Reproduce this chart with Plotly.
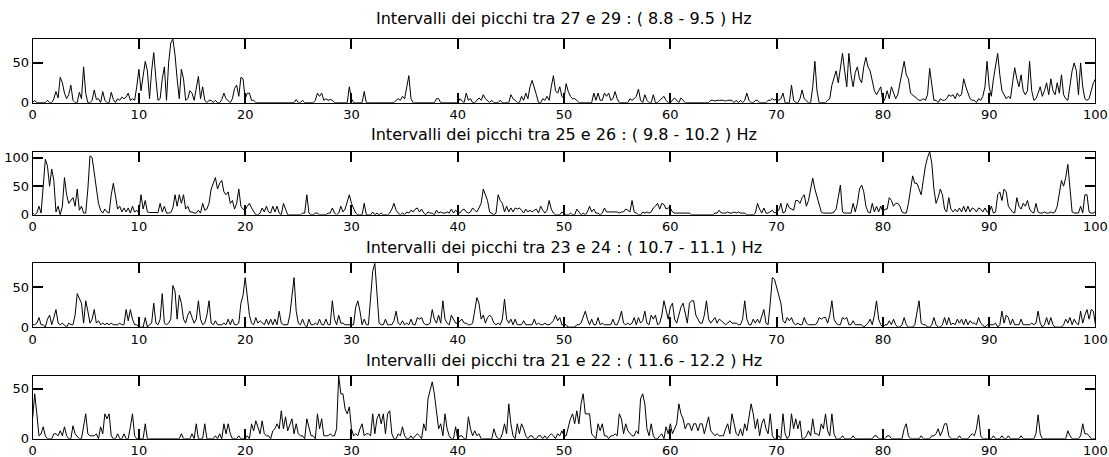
import numpy as np
import plotly.graph_objects as go

# sample times (s), one value every 0.2 s from 0 to 100
t = np.round(np.arange(501) * 0.2, 1)

titles = [
    "Intervalli dei picchi tra 27 e 29 : ( 8.8 - 9.5 ) Hz",
    "Intervalli dei picchi tra 25 e 26 : ( 9.8 - 10.2 ) Hz",
    "Intervalli dei picchi tra 23 e 24 : ( 10.7 - 11.1 ) Hz",
    "Intervalli dei picchi tra 21 e 22 : ( 11.6 - 12.2 ) Hz",
]

x_ticks = list(range(0, 101, 10))
y_ticks = [[0, 50], [0, 50, 100], [0, 50], [0, 50]]

# band 27-29 (8.8 - 9.5 Hz), one row per 5 s
band_27_29 = [
    0, 3, 0, 0, 0, 0, 0, 3, 0, 0, 5, 14, 6, 32, 25, 12, 5, 10, 22, 3, 0, 0, 13, 5, 45,
    12, 0, 0, 3, 16, 4, 5, 0, 14, 3, 0, 0, 13, 4, 0, 5, 3, 7, 5, 7, 12, 3, 5, 3, 20,
    42, 15, 35, 52, 40, 5, 40, 63, 30, 3, 5, 30, 45, 3, 50, 75, 80, 60, 30, 5, 42, 30, 3, 5, 15,
    12, 3, 20, 33, 5, 20, 3, 0, 3, 3, 0, 3, 0, 0, 4, 12, 5, 3, 0, 5, 18, 22, 8, 32, 30,
    5, 12, 12, 3, 3, 0, 0, 0, 0, 0, 0, 0, 0, 0, 0, 0, 0, 0, 0, 0, 0, 0, 0, 0, 4,
    0, 0, 3, 0, 0, 0, 0, 0, 3, 12, 8, 12, 3, 5, 3, 4, 3, 0, 0, 0, 0, 0, 0, 0, 20,
    5, 0, 0, 0, 0, 0, 14, 0, 0, 0, 0, 0, 0, 0, 0, 0, 0, 0, 0, 0, 0, 3, 5, 3, 8,
    5, 22, 34, 5, 0, 0, 0, 0, 0, 0, 0, 0, 0, 0, 0, 5, 5, 0, 0, 0, 0, 0, 0, 0, 0,
    0, 5, 3, 0, 12, 3, 5, 0, 0, 3, 6, 3, 10, 5, 3, 0, 3, 0, 0, 0, 3, 0, 0, 0, 0,
    10, 5, 3, 0, 0, 8, 3, 12, 5, 20, 28, 20, 10, 0, 0, 5, 3, 8, 3, 20, 34, 15, 12, 20, 8,
    5, 24, 14, 8, 5, 5, 3, 0, 0, 0, 0, 0, 0, 0, 12, 3, 12, 3, 3, 12, 8, 12, 3, 5, 14,
    5, 0, 0, 0, 0, 0, 5, 3, 5, 8, 17, 3, 0, 10, 3, 0, 0, 10, 0, 0, 3, 5, 8, 3, 0,
    0, 3, 6, 3, 0, 6, 3, 0, 0, 0, 0, 0, 0, 0, 0, 0, 0, 0, 0, 3, 3, 2, 3, 3, 3,
    3, 2, 3, 3, 3, 0, 3, 0, 3, 0, 3, 12, 3, 0, 0, 3, 3, 0, 0, 0, 0, 3, 3, 5, 3,
    5, 3, 5, 12, 0, 0, 0, 22, 3, 0, 0, 5, 16, 5, 3, 0, 0, 20, 52, 15, 0, 0, 0, 0, 3,
    5, 22, 30, 40, 25, 45, 62, 40, 20, 62, 35, 20, 38, 45, 30, 25, 45, 57, 45, 40, 25, 15, 10, 15, 20,
    0, 5, 15, 5, 20, 12, 5, 10, 25, 40, 52, 35, 30, 12, 10, 8, 5, 3, 3, 5, 3, 10, 43, 20, 3,
    3, 0, 5, 3, 3, 5, 10, 8, 10, 5, 12, 8, 10, 30, 20, 12, 5, 3, 3, 0, 5, 3, 8, 20, 52,
    20, 8, 30, 45, 62, 35, 15, 10, 5, 8, 5, 25, 44, 30, 20, 35, 15, 10, 15, 52, 15, 3, 5, 12, 20,
    8, 15, 25, 10, 30, 15, 10, 25, 12, 35, 10, 5, 3, 20, 40, 50, 40, 10, 50, 20, 5, 3, 5, 15, 25,
    30,
]

# band 25-26 (9.8 - 10.2 Hz)
band_25_26 = [
    3, 0, 3, 15, 3, 50, 97, 85, 50, 80, 60, 5, 15, 0, 15, 65, 35, 20, 25, 30, 15, 45, 8, 15, 3,
    3, 45, 103, 100, 75, 50, 20, 8, 3, 10, 5, 3, 35, 55, 30, 10, 15, 5, 12, 5, 12, 3, 15, 5, 8,
    3, 35, 10, 25, 5, 4, 4, 3, 4, 4, 20, 5, 15, 3, 3, 4, 12, 35, 15, 35, 20, 35, 10, 15, 5,
    5, 3, 3, 8, 3, 20, 8, 10, 20, 45, 55, 65, 45, 55, 60, 40, 35, 40, 20, 25, 10, 20, 45, 15, 10,
    8, 15, 20, 12, 5, 0, 0, 3, 12, 5, 15, 5, 3, 15, 5, 15, 3, 0, 20, 10, 0, 0, 0, 0, 0,
    0, 0, 3, 3, 35, 3, 0, 0, 3, 3, 0, 0, 0, 0, 3, 3, 12, 3, 0, 3, 15, 5, 10, 25, 35,
    20, 10, 3, 0, 0, 0, 20, 0, 0, 0, 5, 0, 3, 0, 3, 0, 0, 0, 3, 10, 20, 8, 3, 0, 3,
    0, 5, 3, 8, 5, 10, 12, 5, 10, 3, 0, 5, 3, 3, 0, 8, 3, 5, 3, 3, 5, 3, 10, 3, 8,
    5, 3, 8, 10, 5, 3, 5, 12, 8, 5, 12, 20, 45, 35, 25, 5, 3, 0, 3, 35, 25, 20, 5, 15, 5,
    12, 5, 12, 10, 12, 8, 3, 10, 5, 8, 5, 8, 10, 3, 15, 8, 3, 8, 25, 10, 3, 0, 0, 0, 5,
    3, 0, 0, 3, 0, 0, 10, 5, 0, 3, 0, 5, 15, 5, 10, 3, 3, 0, 3, 12, 5, 5, 5, 5, 5,
    5, 3, 5, 5, 10, 8, 5, 25, 5, 3, 0, 0, 5, 3, 5, 3, 5, 12, 15, 20, 10, 20, 18, 10, 12,
    12, 5, 3, 3, 3, 3, 3, 3, 3, 3, 0, 0, 0, 0, 0, 0, 0, 0, 0, 0, 0, 3, 3, 8, 3,
    3, 3, 5, 3, 3, 5, 3, 5, 3, 3, 3, 0, 0, 0, 0, 3, 20, 10, 3, 12, 3, 3, 5, 8, 3,
    5, 8, 20, 3, 5, 20, 12, 10, 8, 25, 25, 20, 30, 35, 15, 25, 45, 64, 45, 30, 15, 5, 3, 3, 3,
    3, 3, 5, 10, 30, 52, 5, 3, 3, 3, 3, 20, 5, 20, 45, 52, 40, 15, 5, 3, 20, 5, 15, 5, 15,
    5, 10, 10, 30, 25, 15, 20, 20, 15, 5, 3, 3, 20, 45, 68, 55, 55, 45, 35, 60, 85, 100, 110, 90, 45,
    20, 30, 45, 35, 10, 5, 30, 10, 5, 10, 5, 12, 5, 15, 5, 15, 5, 12, 10, 5, 12, 10, 5, 12, 5,
    5, 15, 3, 5, 35, 40, 25, 45, 40, 15, 10, 5, 3, 30, 15, 10, 20, 15, 25, 10, 5, 3, 20, 5, 3,
    3, 5, 3, 3, 5, 3, 5, 15, 35, 60, 50, 65, 88, 40, 5, 3, 3, 3, 15, 3, 35, 35, 5, 3, 3,
    5,
]

# band 23-24 (10.7 - 11.1 Hz)
band_23_24 = [
    3, 3, 5, 12, 3, 3, 0, 10, 15, 3, 12, 22, 5, 3, 5, 3, 0, 5, 3, 3, 15, 42, 35, 30, 5,
    33, 20, 5, 10, 22, 5, 8, 3, 5, 3, 5, 3, 5, 3, 3, 3, 5, 3, 3, 22, 8, 22, 10, 3, 3,
    0, 0, 0, 12, 0, 3, 5, 30, 5, 3, 10, 42, 5, 3, 5, 10, 52, 45, 10, 40, 30, 10, 5, 15, 20,
    12, 5, 10, 33, 10, 3, 5, 15, 33, 5, 3, 8, 3, 3, 3, 5, 3, 10, 3, 10, 3, 3, 5, 30, 40,
    62, 40, 15, 5, 3, 12, 5, 8, 5, 3, 10, 3, 10, 3, 10, 3, 20, 5, 3, 3, 3, 15, 35, 62, 20,
    5, 3, 10, 3, 0, 10, 3, 3, 5, 3, 10, 3, 3, 10, 3, 3, 33, 10, 3, 15, 5, 5, 3, 3, 3,
    3, 3, 25, 33, 20, 3, 10, 3, 3, 40, 70, 80, 45, 5, 3, 3, 10, 3, 3, 3, 8, 20, 5, 3, 8,
    3, 5, 3, 10, 3, 3, 12, 10, 12, 5, 3, 3, 5, 22, 10, 5, 15, 5, 33, 10, 5, 3, 15, 10, 5,
    5, 8, 10, 5, 5, 3, 3, 5, 20, 37, 30, 10, 15, 5, 12, 15, 12, 5, 3, 5, 3, 10, 35, 10, 5,
    10, 3, 10, 3, 3, 3, 8, 3, 3, 3, 3, 10, 3, 5, 3, 3, 5, 3, 3, 5, 8, 15, 8, 12, 3,
    3, 3, 0, 0, 0, 0, 3, 3, 5, 12, 20, 10, 3, 10, 3, 3, 12, 3, 5, 3, 3, 3, 3, 10, 3,
    3, 10, 20, 5, 3, 5, 3, 5, 12, 3, 12, 5, 8, 20, 5, 3, 15, 10, 15, 3, 5, 15, 33, 20, 10,
    25, 30, 10, 5, 15, 25, 30, 15, 5, 30, 33, 33, 15, 10, 5, 5, 15, 33, 10, 5, 8, 12, 5, 10, 8,
    5, 3, 5, 8, 5, 5, 5, 3, 3, 10, 33, 10, 3, 3, 10, 5, 10, 5, 15, 22, 5, 3, 30, 62, 60,
    50, 40, 30, 8, 5, 12, 8, 12, 5, 3, 5, 3, 3, 12, 5, 3, 3, 3, 3, 5, 12, 10, 12, 12, 5,
    15, 33, 10, 5, 3, 3, 12, 10, 12, 3, 3, 8, 3, 3, 3, 3, 0, 3, 5, 10, 3, 15, 33, 10, 3,
    0, 3, 3, 8, 3, 10, 3, 0, 0, 3, 12, 3, 0, 0, 0, 3, 20, 33, 5, 3, 3, 0, 0, 3, 12,
    3, 0, 0, 3, 12, 3, 12, 3, 5, 3, 10, 5, 10, 3, 10, 3, 8, 5, 5, 3, 12, 5, 3, 0, 3,
    3, 3, 3, 5, 0, 3, 20, 5, 15, 12, 3, 10, 3, 3, 3, 10, 3, 3, 3, 3, 5, 3, 5, 20, 5,
    0, 3, 12, 3, 12, 3, 0, 0, 0, 0, 3, 10, 5, 12, 3, 10, 5, 3, 20, 5, 15, 22, 10, 22, 20,
    3,
]

# band 21-22 (11.6 - 12.2 Hz)
band_21_22 = [
    20, 45, 25, 3, 5, 12, 3, 0, 0, 0, 5, 5, 3, 8, 3, 12, 3, 0, 0, 13, 5, 3, 0, 0, 12,
    25, 5, 3, 3, 3, 5, 0, 12, 5, 25, 20, 25, 3, 0, 0, 5, 0, 0, 5, 0, 0, 12, 25, 3, 0,
    0, 0, 0, 15, 0, 0, 0, 0, 0, 0, 0, 0, 0, 0, 0, 0, 0, 0, 0, 0, 5, 0, 0, 0, 0,
    5, 0, 15, 0, 0, 0, 15, 0, 0, 0, 0, 3, 0, 5, 0, 15, 5, 15, 5, 0, 0, 0, 3, 0, 0,
    0, 3, 0, 15, 8, 18, 12, 5, 18, 5, 3, 3, 0, 8, 10, 15, 10, 28, 10, 22, 8, 15, 20, 5, 15,
    5, 3, 3, 0, 20, 10, 3, 3, 0, 25, 10, 20, 3, 3, 3, 5, 3, 3, 10, 63, 45, 45, 30, 25, 32,
    10, 3, 5, 3, 10, 15, 3, 5, 5, 3, 25, 5, 20, 25, 15, 25, 5, 25, 28, 5, 0, 0, 5, 3, 12,
    3, 0, 0, 3, 0, 3, 5, 3, 0, 15, 8, 40, 50, 57, 45, 25, 10, 15, 3, 25, 10, 3, 0, 0, 12,
    0, 3, 3, 0, 0, 22, 10, 3, 8, 3, 5, 0, 0, 0, 0, 0, 0, 10, 3, 0, 0, 5, 15, 5, 35,
    15, 3, 0, 15, 5, 15, 10, 3, 0, 3, 3, 0, 0, 3, 3, 0, 3, 0, 3, 5, 3, 0, 5, 3, 8,
    3, 3, 12, 20, 25, 15, 28, 15, 35, 45, 25, 25, 25, 5, 3, 0, 15, 8, 15, 3, 3, 0, 3, 3, 5,
    3, 25, 20, 5, 15, 8, 5, 3, 3, 8, 5, 40, 45, 35, 10, 3, 15, 3, 0, 0, 3, 5, 0, 12, 5,
    15, 5, 10, 15, 35, 25, 20, 10, 15, 15, 8, 15, 15, 8, 15, 15, 5, 15, 22, 8, 5, 3, 5, 3, 3,
    3, 10, 15, 5, 25, 15, 5, 3, 10, 3, 15, 8, 20, 35, 25, 10, 20, 3, 15, 20, 10, 5, 25, 3, 0,
    0, 3, 0, 25, 5, 0, 3, 25, 10, 20, 10, 18, 0, 0, 3, 8, 3, 20, 5, 5, 3, 15, 10, 25, 8,
    3, 25, 5, 0, 0, 0, 3, 0, 0, 0, 0, 3, 0, 0, 0, 0, 0, 0, 0, 0, 0, 3, 3, 0, 0,
    0, 0, 3, 3, 0, 0, 0, 0, 0, 0, 10, 15, 3, 0, 0, 0, 0, 0, 3, 0, 0, 0, 0, 3, 3,
    5, 10, 3, 8, 15, 15, 3, 0, 0, 0, 0, 3, 0, 0, 0, 0, 3, 5, 3, 10, 24, 3, 0, 0, 0,
    0, 0, 3, 0, 0, 0, 3, 0, 0, 3, 0, 0, 0, 0, 0, 3, 0, 0, 0, 0, 0, 0, 5, 24, 5,
    0, 0, 0, 0, 0, 0, 0, 0, 0, 0, 0, 0, 8, 3, 0, 0, 0, 0, 3, 15, 5, 5, 3, 0, 0,
    0,
]

series = [band_27_29, band_25_26, band_23_24, band_21_22]
for s in series:
    assert len(s) == len(t)

W, H = 1127, 464
x_left, x_right = 29.0, 1107.2
# top / bottom pixel rows of each axes box and the title centre
boxes = [(37.9, 102.9, 17.3), (153.1, 217.5, 135.2), (267.0, 332.3, 251.0), (382.1, 446.4, 366.9)]

font_family = "DejaVu Sans, Arial, sans-serif"
fig = go.Figure()
layout = dict(
    width=W, height=H,
    margin=dict(l=0, r=0, t=0, b=0),
    paper_bgcolor="white", plot_bgcolor="white",
    showlegend=False,
    font=dict(family=font_family, color="black"),
    annotations=[],
)

for i, (vals, (top, bot, ty)) in enumerate(zip(series, boxes)):
    n = "" if i == 0 else str(i + 1)
    fig.add_trace(go.Scatter(
        x=t, y=vals, mode="lines",
        line=dict(color="black", width=1),
        xaxis="x" + n, yaxis="y" + n, hoverinfo="skip",
    ))
    common = dict(
        ticks="inside", ticklen=10, tickwidth=2, tickcolor="black",
        showline=True, linecolor="black", linewidth=1, mirror="ticks",
        showgrid=False, zeroline=False, layer="above traces",
        tickfont=dict(size=13, family=font_family, color="black"),
    )
    layout["xaxis" + n] = dict(
        common, domain=[x_left / W, x_right / W], range=[0, 100],
        tickvals=x_ticks, anchor="y" + n,
    )
    layout["yaxis" + n] = dict(
        common, domain=[1 - bot / H, 1 - top / H], range=[0, max(vals)],
        tickvals=y_ticks[i], anchor="x" + n,
    )
    layout["annotations"].append(dict(
        text=titles[i], xref="paper", yref="paper",
        x=(x_left + x_right) / 2 / W, y=1 - ty / H,
        xanchor="center", yanchor="middle", showarrow=False,
        font=dict(size=16, family=font_family, color="black"),
    ))

fig.update_layout(**layout)
fig.write_html("out.html")
